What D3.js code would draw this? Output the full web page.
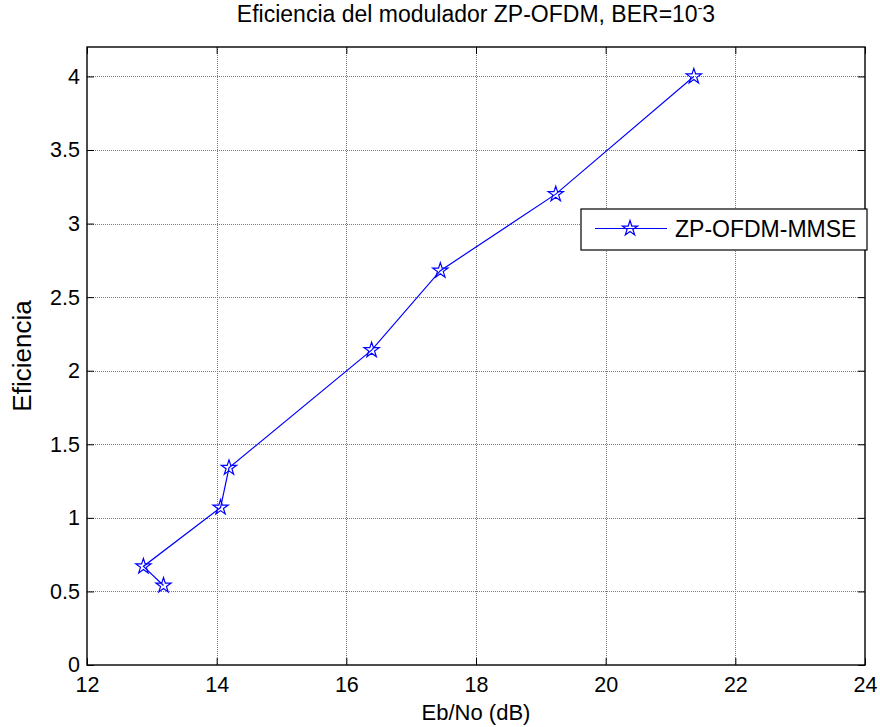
<!DOCTYPE html>
<html>
<head>
<meta charset="utf-8">
<script src="https://cdn.jsdelivr.net/npm/d3@7"></script>
<style>
  html, body { margin: 0; padding: 0; background: #fff; }
  svg { display: block; }
  text { font-family: Arial, "Liberation Sans", Helvetica, sans-serif; fill: #000; }
</style>
</head>
<body>
<svg id="chart" width="880" height="727"></svg>
<script>
// Eb/No (dB) needed for BER = 1e-3, and the spectral efficiency reached
const ebnoValues = [13.18, 12.87, 14.06, 14.19, 16.39, 17.45, 19.23, 21.36];
const efficiencyValues = [0.54, 0.67, 1.07, 1.34, 2.14, 2.68, 3.20, 4.00];
const xTicks = [12, 14, 16, 18, 20, 22, 24];
const yTicks = [0, 0.5, 1, 1.5, 2, 2.5, 3, 3.5, 4];
const seriesName = "ZP-OFDM-MMSE";

const svg = d3.select("#chart");
const plotLeft = 87, plotRight = 865, plotTop = 47, plotBottom = 665;
const tickFont = 21.5;

const x = d3.scaleLinear().domain([12, 24]).range([plotLeft, plotRight]);
const y = d3.scaleLinear().domain([0, 4.2]).range([plotBottom, plotTop]);

// dotted grid
const grid = svg.append("g").attr("stroke", "#7a7a7a").attr("stroke-width", 1)
  .attr("stroke-dasharray", "1,1").attr("shape-rendering", "crispEdges");
grid.selectAll(".gx").data(xTicks.slice(1, -1)).join("line")
  .attr("x1", d => Math.round(x(d)) + 0.5).attr("x2", d => Math.round(x(d)) + 0.5)
  .attr("y1", plotTop).attr("y2", plotBottom);
grid.selectAll(".gy").data(yTicks.slice(1)).join("line")
  .attr("y1", d => Math.round(y(d)) + 0.5).attr("y2", d => Math.round(y(d)) + 0.5)
  .attr("x1", plotLeft).attr("x2", plotRight);

// axes with inward ticks on all four sides
const tickLen = 7;
const xAxis = d3.axisBottom(x).tickValues(xTicks).tickSize(-tickLen).tickPadding(12).tickFormat(d3.format("d"));
const yAxis = d3.axisLeft(y).tickValues(yTicks).tickSize(-tickLen).tickPadding(7).tickFormat(d => d3.format("")(d));
const xAxisTop = d3.axisTop(x).tickValues(xTicks).tickSize(-tickLen).tickFormat("");
const yAxisRight = d3.axisRight(y).tickValues(yTicks).tickSize(-tickLen).tickFormat("");

function styleAxis(g) {
  g.select(".domain").remove();
  g.selectAll(".tick line").attr("stroke", "#000").attr("stroke-width", 1);
  g.selectAll(".tick text").attr("font-size", tickFont)
    .attr("font-family", "Arial, 'Liberation Sans', sans-serif").attr("fill", "#000");
}
svg.append("g").attr("transform", `translate(0,${plotBottom})`).call(xAxis).call(styleAxis);
svg.append("g").attr("transform", `translate(${plotLeft},0)`).call(yAxis).call(styleAxis);
svg.append("g").attr("transform", `translate(0,${plotTop})`).call(xAxisTop).call(styleAxis);
svg.append("g").attr("transform", `translate(${plotRight},0)`).call(yAxisRight).call(styleAxis);

// axes box
svg.append("rect").attr("x", plotLeft).attr("y", plotTop)
  .attr("width", plotRight - plotLeft).attr("height", plotBottom - plotTop)
  .attr("fill", "none").attr("stroke", "#000").attr("stroke-width", 1.4);

// pentagram marker
function pentagram(r) {
  const ri = r * 0.382, pts = [];
  for (let i = 0; i < 10; i++) {
    const a = -Math.PI / 2 + i * Math.PI / 5;
    const rr = i % 2 === 0 ? r : ri;
    pts.push([rr * Math.cos(a), rr * Math.sin(a)]);
  }
  return "M" + pts.map(p => p[0].toFixed(2) + "," + p[1].toFixed(2)).join("L") + "Z";
}
const starPath = pentagram(8);

const data = ebnoValues.map((v, i) => ({ x: v, y: efficiencyValues[i] }));
const line = d3.line().x(d => x(d.x)).y(d => y(d.y));
svg.append("path").datum(data).attr("d", line)
  .attr("fill", "none").attr("stroke", "#0000ff").attr("stroke-width", 1.2);
svg.append("g").selectAll("path").data(data).join("path")
  .attr("d", starPath)
  .attr("transform", d => `translate(${x(d.x)},${y(d.y)})`)
  .attr("fill", "none").attr("stroke", "#0000ff").attr("stroke-width", 1.2);

// legend
const lg = svg.append("g");
lg.append("rect").attr("x", 581).attr("y", 209).attr("width", 286).attr("height", 41)
  .attr("fill", "#fff").attr("stroke", "#000").attr("stroke-width", 1.2);
lg.append("line").attr("x1", 595).attr("x2", 667).attr("y1", 228.5).attr("y2", 228.5)
  .attr("stroke", "#0000ff").attr("stroke-width", 1.2);
lg.append("path").attr("d", starPath).attr("transform", "translate(630,228.5)")
  .attr("fill", "none").attr("stroke", "#0000ff").attr("stroke-width", 1.2);
lg.append("text").attr("x", 675).attr("y", 237).attr("font-size", 23).text(seriesName);

// title and axis labels
const title = svg.append("text").attr("x", (plotLeft + plotRight) / 2).attr("y", 22)
  .attr("text-anchor", "middle").attr("font-size", 23);
title.append("tspan").text("Eficiencia del modulador ZP-OFDM, BER=10");
title.append("tspan").attr("dy", -9).attr("font-size", 14).text("-");
title.append("tspan").attr("dy", 9).text("3");

svg.append("text").attr("x", (plotLeft + plotRight) / 2).attr("y", 720)
  .attr("text-anchor", "middle").attr("font-size", 22).text("Eb/No (dB)");
svg.append("text").attr("transform", `translate(31,${(plotTop + plotBottom) / 2}) rotate(-90)`)
  .attr("text-anchor", "middle").attr("font-size", 26).text("Eficiencia");
</script>
</body>
</html>
